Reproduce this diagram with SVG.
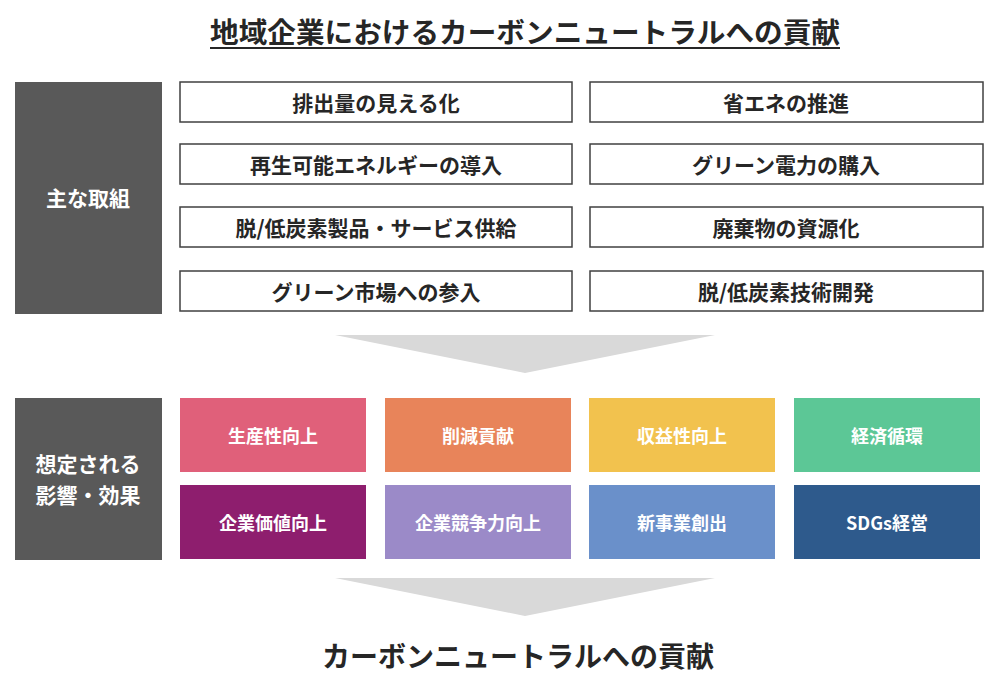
<svg xmlns="http://www.w3.org/2000/svg" width="1000" height="700" viewBox="0 0 1000 700">
<style>
text{font-family:"Noto Sans CJK JP","Noto Sans",sans-serif;font-weight:bold;text-anchor:middle;dominant-baseline:central}
.side{fill:#595959}
.w rect{fill:#fff;stroke:#404040;stroke-width:1.5}
.w text{fill:#262626;font-size:21px}
.c text{fill:#fff;font-size:18px}
.arr{fill:#d9d9d9}
</style>
<rect width="1000" height="700" fill="#fff"/>
<text x="525" y="31" font-size="28" fill="#262626" textLength="630" lengthAdjust="spacingAndGlyphs">地域企業におけるカーボンニュートラルへの貢献</text>
<line x1="210" y1="48" x2="840" y2="48" stroke="#262626" stroke-width="2"/>
<g id="left1"><rect class="side" x="15" y="82" width="147" height="232"/><text x="88" y="197" fill="#fff" font-size="21">主な取組</text></g>
<g id="left2"><rect class="side" x="15" y="398" width="147" height="162"/><text fill="#fff" font-size="21"><tspan x="88" y="463">想定される</tspan><tspan x="88" y="494">影響・効果</tspan></text></g>
<g class="w">
<g id="a1"><rect x="180" y="82" width="392" height="40"/><text x="376" y="102">排出量の見える化</text></g>
<g id="a2"><rect x="590" y="82" width="393" height="40"/><text x="786" y="102">省エネの推進</text></g>
<g id="a3"><rect x="180" y="144" width="392" height="40"/><text x="376" y="164">再生可能エネルギーの導入</text></g>
<g id="a4"><rect x="590" y="144" width="393" height="40"/><text x="786" y="164">グリーン電力の購入</text></g>
<g id="a5"><rect x="180" y="207" width="392" height="40"/><text x="376" y="227">脱/低炭素製品・サービス供給</text></g>
<g id="a6"><rect x="590" y="207" width="393" height="40"/><text x="786" y="227">廃棄物の資源化</text></g>
<g id="a7"><rect x="180" y="271" width="392" height="40"/><text x="376" y="291">グリーン市場への参入</text></g>
<g id="a8"><rect x="590" y="271" width="393" height="40"/><text x="786" y="291">脱/低炭素技術開発</text></g>
</g>
<g id="connectors">
<polygon class="arr" points="335,335 715,335 525,373"/>
<polygon class="arr" points="335,578 715,578 525,616"/>
</g>
<g class="c">
<g id="b1"><rect x="180" y="398" width="186" height="74" fill="#E0607A"/><text x="273" y="435">生産性向上</text></g>
<g id="b2"><rect x="385" y="398" width="186" height="74" fill="#E8845A"/><text x="478" y="435">削減貢献</text></g>
<g id="b3"><rect x="589" y="398" width="186" height="74" fill="#F2C24E"/><text x="682" y="435">収益性向上</text></g>
<g id="b4"><rect x="794" y="398" width="186" height="74" fill="#5CC796"/><text x="887" y="435">経済循環</text></g>
<g id="b5"><rect x="180" y="485" width="186" height="74" fill="#8E1E6E"/><text x="273" y="522">企業価値向上</text></g>
<g id="b6"><rect x="385" y="485" width="186" height="74" fill="#9B8AC8"/><text x="478" y="522">企業競争力向上</text></g>
<g id="b7"><rect x="589" y="485" width="186" height="74" fill="#6A90CA"/><text x="682" y="522">新事業創出</text></g>
<g id="b8"><rect x="794" y="485" width="186" height="74" fill="#2E5A8C"/><text x="887" y="522">SDGs経営</text></g>
</g>
<text x="518" y="655" font-size="28" fill="#262626">カーボンニュートラルへの貢献</text>
</svg>
